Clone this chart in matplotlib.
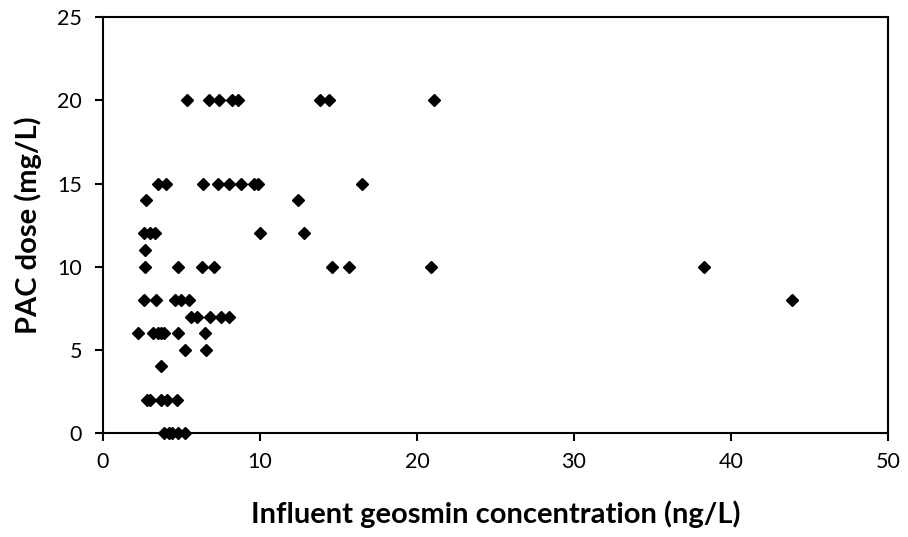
import numpy as np
import matplotlib.pyplot as plt

plt.rcParams['font.family'] = ['Lato', 'DejaVu Sans']

# influent geosmin (ng/L) and PAC dose (mg/L)
geosmin = [5.35, 6.75, 7.4, 8.2, 8.6, 13.8, 14.4, 21.1,
           3.5, 4.0, 6.4, 7.3, 8.0, 8.8, 9.6, 9.9, 16.5,
           2.75, 12.4,
           2.6, 3.0, 3.3, 10.0, 12.8,
           2.7,
           2.7, 4.8, 6.3, 7.1, 14.6, 15.7, 20.9, 38.3,
           2.6, 3.4, 4.6, 5.0, 5.5, 43.9,
           5.6, 6.0, 6.8, 7.5, 8.0,
           2.2, 3.2, 3.5, 3.7, 3.9, 4.8, 6.5,
           5.2, 6.55,
           3.7,
           2.8, 3.0, 3.7, 4.1, 4.7,
           3.9, 4.2, 4.4, 4.8, 5.2]
pac_dose = [20, 20, 20, 20, 20, 20, 20, 20,
            15, 15, 15, 15, 15, 15, 15, 15, 15,
            14, 14,
            12, 12, 12, 12, 12,
            11,
            10, 10, 10, 10, 10, 10, 10, 10,
            8, 8, 8, 8, 8, 8,
            7, 7, 7, 7, 7,
            6, 6, 6, 6, 6, 6, 6,
            5, 5,
            4,
            2, 2, 2, 2, 2,
            0, 0, 0, 0, 0]

fig = plt.figure(figsize=(9.08, 5.37), dpi=100)
ax = fig.add_axes([0.1134, 0.1937, 0.8646, 0.7743])
ax.plot(geosmin, pac_dose, linestyle='none', marker='D', markersize=6.5,
        color='black', clip_on=False)

ax.set_xlim(0, 50)
ax.set_ylim(0, 25)
ax.set_xticks(np.arange(0, 51, 10))
ax.set_yticks(np.arange(0, 26, 5))
ax.tick_params(direction='out', length=6, width=1.5, labelsize=15.5)
ax.tick_params(axis='x', pad=8)
ax.tick_params(axis='y', pad=9)
for s in ax.spines.values():
    s.set_linewidth(1.5)

ax.set_xlabel('Influent geosmin concentration (ng/L)', fontsize=21, fontweight='bold', labelpad=20)
ax.set_ylabel('PAC dose (mg/L)', fontsize=21, fontweight='bold', labelpad=11)

fig.savefig('out.png', dpi=100)
